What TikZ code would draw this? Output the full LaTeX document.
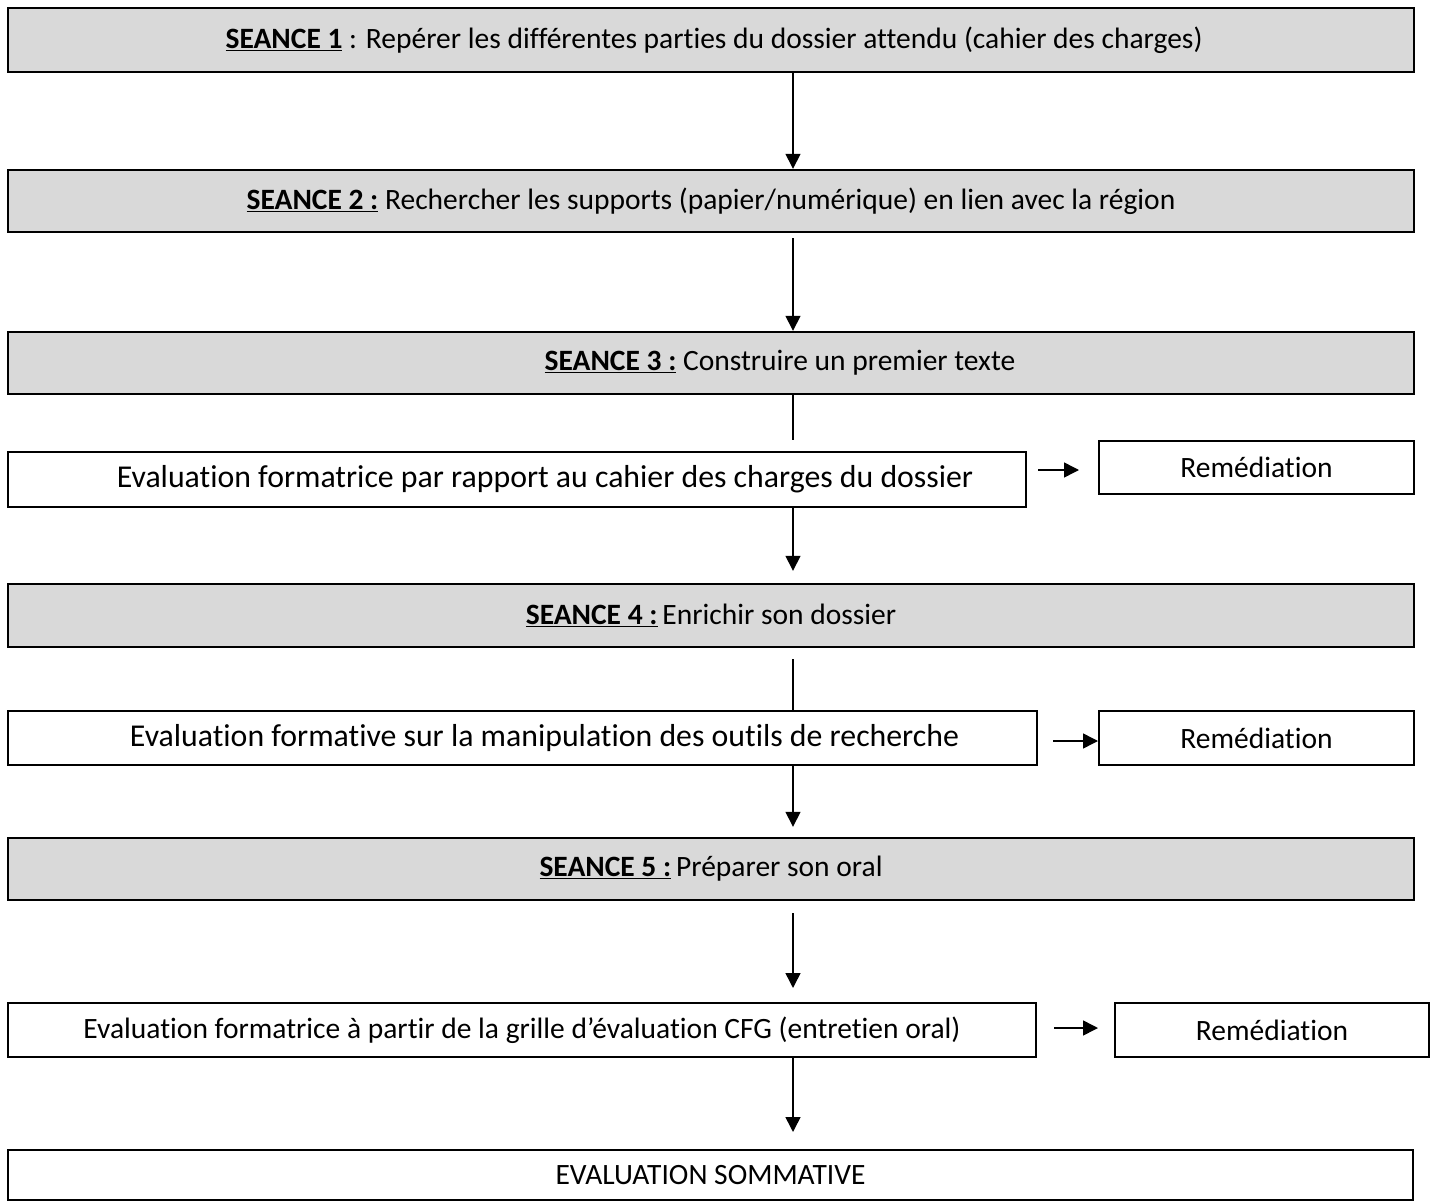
\documentclass[tikz,border=0pt]{standalone}
\usepackage{fontspec}
\setmainfont{Carlito}[Ligatures=CommonOff]
\usetikzlibrary{arrows.meta}
\definecolor{boxgray}{RGB}{217,217,217}
\begin{document}
\begin{tikzpicture}[x=1pt,y=-1pt,
  box/.style={draw=black, line width=2pt, rectangle, inner sep=0pt, fill=white},
  seance/.style={box, fill=boxgray, line width=2.4pt},
  txt/.style={font=\fontsize{29.5}{34}\selectfont, inner sep=0pt},
  bigtxt/.style={font=\fontsize{31.8}{36}\selectfont, inner sep=0pt},
  conn/.style={line width=1.5pt, -{Triangle[width=15pt,length=15pt]}},
  plain/.style={line width=1.5pt},
]
\useasboundingbox (0,0) rectangle (1436,1204);
\coordinate (spine) at (793,0);

% SEANCE boxes
\node[seance, minimum width=1406, minimum height=64,
  label={[txt, xshift=3]center:\underline{\textbf{SEANCE 1}} : Repérer les différentes parties du dossier attendu (cahier des charges)}] (s1) at (711,40) {};
\node[seance, minimum width=1406, minimum height=62,
  label={[txt]center:\underline{\textbf{SEANCE 2 :}} Rechercher les supports (papier/numérique) en lien avec la région}] (s2) at (711,201) {};
\node[seance, minimum width=1406, minimum height=62,
  label={[txt, xshift=69]center:\underline{\textbf{SEANCE 3 :}} Construire un premier texte}] (s3) at (711,363) {};
\node[seance, minimum width=1406, minimum height=63,
  label={[txt]center:\underline{\textbf{SEANCE 4 :}}\,Enrichir son dossier}] (s4) at (711,615.5) {};
\node[seance, minimum width=1406, minimum height=62,
  label={[txt]center:\underline{\textbf{SEANCE 5 :}}\,Préparer son oral}] (s5) at (711,869) {};

% Evaluation boxes
\node[box, minimum width=1018, minimum height=55,
  label={[bigtxt, xshift=28]center:Evaluation formatrice par rapport au cahier des charges du dossier}] (e1) at (517,479.5) {};
\node[box, minimum width=1029, minimum height=54,
  label={[bigtxt, xshift=22]center:Evaluation formative sur la manipulation des outils de recherche}] (e2) at (522.5,738) {};
\node[box, minimum width=1028, minimum height=54,
  label={[txt]center:Evaluation formatrice à partir de la grille d’évaluation CFG (entretien oral)}] (e3) at (522,1030) {};

% Remediation boxes
\node[box, minimum width=315, minimum height=53,
  label={[txt]center:Remédiation}] (r1) at (1256.5,467.5) {};
\node[box, minimum width=315, minimum height=54,
  label={[txt]center:Remédiation}] (r2) at (1256.5,738) {};
\node[box, minimum width=314, minimum height=54,
  label={[txt]center:Remédiation}] (r3) at (1272,1030) {};

% Final box
\node[box, minimum width=1405, minimum height=50,
  label={[txt]center:EVALUATION SOMMATIVE}] (f) at (710.5,1175) {};

% Vertical connectors
\draw[conn] (s1.south -| spine) -- (s2.north -| spine);
\draw[conn, shorten <=5] (s2.south -| spine) -- (s3.north -| spine);
\draw[plain, shorten >=11] (s3.south -| spine) -- (e1.north -| spine);
\draw[conn, shorten >=12] (e1.south -| spine) -- (s4.north -| spine);
\draw[plain, shorten <=11] (s4.south -| spine) -- (e2.north -| spine);
\draw[conn, shorten >=10] (e2.south -| spine) -- (s5.north -| spine);
\draw[conn, shorten <=12, shorten >=14] (s5.south -| spine) -- (e3.north -| spine);
\draw[conn, shorten >=17] (e3.south -| spine) -- (f.north -| spine);

% Horizontal connectors
\draw[conn, shorten <=11, shorten >=19] ([yshift=-2.5]e1.east |- r1.west) -- ([yshift=-2.5]r1.west);
\draw[conn, shorten <=15] ([yshift=-3]e2.east) -- ([yshift=-3]r2.west);
\draw[conn, shorten <=17, shorten >=16] ([yshift=2]e3.east) -- ([yshift=2]r3.west);
\end{tikzpicture}
\end{document}
